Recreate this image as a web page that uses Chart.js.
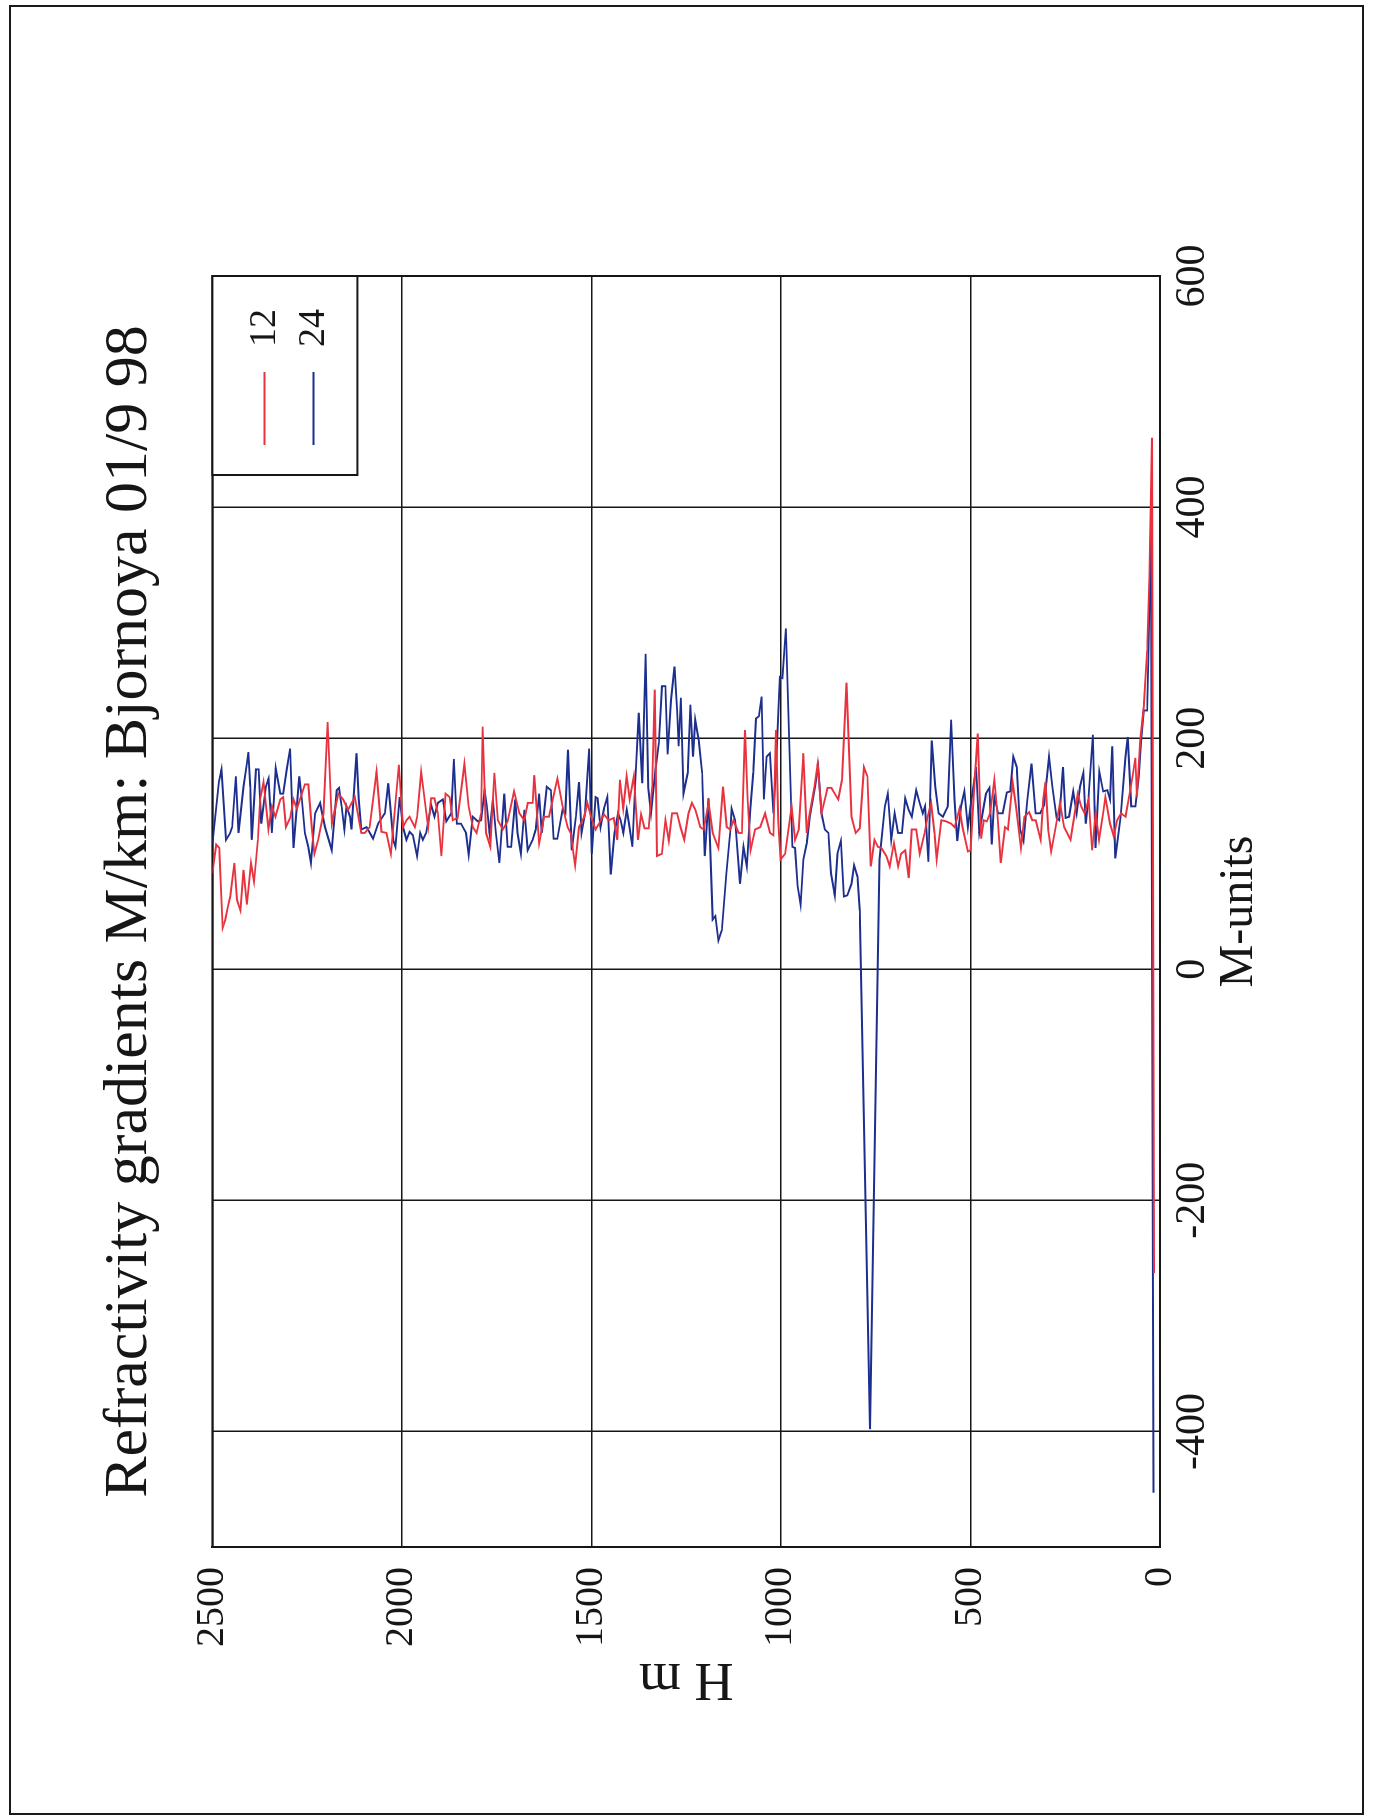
<!DOCTYPE html>
<html>
<head>
<meta charset="utf-8">
<script src="https://cdn.jsdelivr.net/npm/chart.js@4.4.0/dist/chart.umd.min.js"></script>
<style>
  html, body { margin: 0; padding: 0; background: #fff; overflow: hidden; }
  body { width: 1376px; height: 1819px; position: relative; }
  #marco { position: absolute; left: 9px; top: 5px; width: 1351px; height: 1806px; border: 2px solid #1a1a1a; }
  /* la hoja va girada: el grafico se dibuja en horizontal y se rota 90 grados */
  #hoja { position: absolute; left: 0; top: 0; width: 1819px; height: 1376px;
          transform-origin: 0 0; transform: translate(0, 1819px) rotate(-90deg); }
</style>
</head>
<body>
<div id="marco"></div>
<div id="hoja"><canvas id="graficoGradientes"></canvas></div>
<script>
// Sondeo de las 12: altura (m) y gradiente (M/km)
const alturas12 = [
  2500, 2490, 2482, 2473, 2466, 2459, 2453, 2442, 2435, 2426, 2418, 2409, 2398, 2390, 2380, 2374, 2365, 2352, 2343, 2334,
  2321, 2313, 2306, 2295, 2286, 2277, 2256, 2247, 2238, 2231, 2221, 2207, 2196, 2185, 2168, 2155, 2142, 2124, 2107, 2098,
  2085, 2067, 2054, 2041, 2029, 2008,
  1997, 1988, 1980, 1966, 1960, 1949, 1940, 1931, 1923, 1914, 1905, 1896, 1885, 1874, 1866, 1853, 1835, 1824, 1813, 1803,
  1791, 1787, 1778, 1767, 1756, 1747, 1734, 1721, 1704, 1690, 1677, 1668, 1655, 1651, 1638, 1625, 1612, 1590, 1576, 1563,
  1555, 1543, 1533, 1519, 1511, 1498, 1489,
  1480, 1467, 1454, 1441, 1432, 1425, 1416, 1407, 1399, 1388, 1377, 1369, 1360, 1349, 1340, 1333, 1327, 1314, 1305, 1296,
  1287, 1274, 1265, 1255, 1244, 1235, 1226, 1213, 1204, 1191, 1180, 1165, 1153, 1143, 1134, 1125, 1112, 1103, 1095, 1088,
  1080, 1068, 1055, 1042, 1029, 1020, 1013, 1007, 1001, 989,
  972, 963, 953, 941, 932, 924, 912, 903, 893, 884, 877, 867, 858, 849, 839, 827, 820, 814, 803, 792,
  781, 772, 763, 753, 744, 735, 722, 713, 702, 691, 683, 672, 663, 655, 643, 634, 621, 613, 604, 595,
  589, 577, 564, 551, 542, 529, 521, 507, 500, 490, 481, 472,
  465, 457, 448, 437, 429, 420, 409, 401, 389, 380, 367, 358, 345, 337, 328, 315, 308, 302, 295, 287,
  278, 264, 253, 245, 236, 225, 217, 208, 199, 188, 179, 170, 161, 150, 144, 132, 122, 113, 103, 91,
  80, 71, 65, 61, 52, 43, 34, 28, 21, 16
];
const gradientes12 = [
  83, 108, 105, 36, 43, 54, 63, 92, 60, 51, 86, 56, 92, 76, 112, 147, 162, 121, 141, 132,
  147, 149, 123, 131, 147, 139, 160, 160, 123, 100, 112, 135, 214, 126, 152, 147, 138, 149, 118, 118,
  123, 171, 119, 118, 100, 177,
  123, 129, 132, 123, 132, 171, 147, 123, 148, 148, 135, 98, 152, 149, 129, 131, 178, 141, 123, 118,
  135, 210, 118, 106, 170, 129, 121, 128, 154, 135, 129, 144, 144, 168, 109, 132, 132, 165, 141, 123,
  118, 90, 123, 132, 144, 129, 121,
  126, 134, 129, 131, 112, 164, 139, 167, 147, 167, 112, 134, 122, 122, 158, 242, 98, 100, 129, 111,
  135, 135, 123, 112, 135, 144, 138, 123, 121, 144, 118, 105, 158, 123, 121, 129, 118, 118, 207, 147,
  103, 121, 123, 135, 118, 116, 207, 129, 95, 100,
  141, 112, 121, 187, 118, 135, 158, 178, 135, 147, 157, 157, 152, 147, 164, 248, 184, 132, 118, 122,
  175, 167, 89, 112, 106, 105, 98, 89, 109, 89, 100, 103, 79, 121, 121, 100, 118, 132, 144, 118,
  95, 129, 128, 126, 123, 139, 123, 102, 103, 158, 204, 113,
  129, 128, 135, 164, 135, 92, 123, 121, 162, 141, 105, 132, 136, 129, 129, 112, 147, 162, 121, 102,
  118, 144, 123, 118, 112, 135, 152, 141, 135, 147, 103, 135, 112, 135, 149, 126, 115, 129, 135, 132,
  152, 170, 183, 149, 198, 227, 276, 340, 460, -263
];

// Sondeo de las 24
const alturas24 = [
  2500, 2483, 2476, 2464, 2453, 2448, 2438, 2431, 2418, 2409, 2405, 2400, 2396, 2385, 2378, 2371, 2359, 2352, 2343, 2333,
  2321, 2313, 2304, 2295, 2286, 2271, 2264, 2256, 2247, 2240, 2229, 2216, 2203, 2185, 2172, 2166, 2159, 2152, 2146, 2137,
  2133, 2120, 2114, 2107, 2093, 2076, 2063, 2045, 2036, 2023, 2017, 2006,
  1997, 1988, 1980, 1971, 1960, 1952, 1945, 1936, 1923, 1914, 1905, 1892, 1883, 1870, 1863, 1855, 1844, 1831, 1824, 1813,
  1800, 1791, 1782, 1776, 1769, 1760, 1752, 1743, 1730, 1721, 1712, 1701, 1695, 1686, 1677, 1668, 1655, 1647, 1638, 1631,
  1625, 1618, 1607, 1600, 1590, 1576, 1569, 1562, 1552, 1541, 1533, 1526, 1517, 1506, 1499, 1489,
  1484, 1476, 1467, 1458, 1449, 1439, 1430, 1423, 1416, 1407, 1401, 1392, 1384, 1375, 1366, 1357, 1350, 1343, 1331, 1322,
  1314, 1305, 1299, 1290, 1281, 1274, 1270, 1264, 1257, 1246, 1239, 1232, 1226, 1217, 1208, 1201, 1191, 1180, 1173, 1165,
  1156, 1144, 1134, 1130, 1121, 1108, 1099, 1090, 1081, 1073, 1066, 1058, 1051, 1045, 1038, 1029, 1020, 1013, 1003, 996,
  987, 970,
  963, 956, 948, 941, 932, 924, 910, 902, 893, 884, 875, 868, 858, 851, 842, 834, 825, 814, 807, 798,
  792, 765, 740, 726, 718, 709, 700, 691, 681, 672, 663, 655, 643, 634, 626, 620, 611, 602, 593, 584,
  573, 560, 551, 542, 535, 525, 516, 507, 500, 485, 477,
  465, 459, 450, 444, 437, 427, 415, 404, 395, 387, 378, 369, 360, 350, 339, 328, 316, 306, 293, 284,
  273, 266, 256, 249, 240, 229, 220, 211, 202, 196, 189, 177, 170, 160, 150, 139, 132, 126, 118, 104,
  91, 85, 76, 65, 56, 50, 43, 34, 30, 24, 17
];
const gradientes24 = [
  108, 162, 173, 112, 118, 123, 167, 118, 158, 178, 188, 158, 112, 173, 173, 126, 158, 165, 118, 174,
  152, 152, 173, 191, 105, 167, 147, 118, 106, 92, 135, 144, 123, 103, 155, 157, 141, 121, 141, 132,
  121, 187, 147, 121, 123, 113, 126, 135, 161, 112, 106, 149,
  123, 112, 119, 116, 98, 118, 112, 118, 142, 132, 144, 147, 128, 135, 182, 126, 126, 118, 99, 132,
  128, 129, 155, 141, 118, 147, 118, 92, 152, 106, 106, 147, 118, 100, 138, 103, 112, 121, 152, 118,
  135, 158, 155, 113, 113, 138, 135, 190, 103, 132, 162, 118, 135, 191, 100, 149,
  148, 123, 139, 149, 82, 118, 135, 129, 118, 138, 126, 106, 164, 222, 161, 273, 157, 135, 173, 196,
  245, 245, 186, 233, 262, 224, 193, 235, 152, 170, 229, 184, 216, 198, 170, 98, 148, 43, 46, 25,
  34, 83, 118, 139, 129, 74, 106, 89, 138, 170, 217, 219, 236, 147, 184, 187, 135, 175, 253, 252,
  295, 106,
  105, 72, 56, 95, 109, 132, 158, 175, 135, 121, 118, 83, 64, 100, 111, 63, 64, 74, 90, 80,
  51, -398, 95, 141, 152, 112, 135, 118, 118, 148, 138, 132, 155, 144, 135, 141, 93, 198, 158, 135,
  132, 141, 216, 147, 111, 141, 154, 123, 141, 175, 118,
  141, 152, 157, 108, 149, 135, 135, 153, 154, 184, 175, 121, 111, 147, 178, 135, 135, 142, 184, 158,
  131, 129, 175, 131, 132, 154, 135, 158, 170, 126, 147, 203, 105, 171, 154, 155, 147, 193, 96, 132,
  184, 201, 141, 141, 167, 197, 224, 224, 279, 384, -453
];

// Marcas del eje de M-unidades
const ticksM = [-400, -200, 0, 200, 400, 600];

const fuente = "'Liberation Serif', 'Times New Roman', serif";
const tinta = "#161616";

const puntos = (alturas, valores) => alturas.map((h, i) => ({ x: valores[i], y: h }));

// Recuadro del area de trazado
const recuadro = {
  id: "recuadro",
  beforeDatasetsDraw(chart) {
    const { ctx, chartArea } = chart;
    ctx.save();
    ctx.strokeStyle = tinta;
    ctx.lineWidth = 2;
    ctx.strokeRect(chartArea.left, chartArea.top, chartArea.width, chartArea.height);
    ctx.restore();
  },
};

// Leyenda en caja, arriba a la derecha
const leyendaCaja = {
  id: "leyendaCaja",
  afterDraw(chart) {
    const { ctx, chartArea } = chart;
    const ancho = 199, alto = 145;
    const x0 = chartArea.right - ancho, y0 = chartArea.top;
    ctx.save();
    ctx.fillStyle = "#fff";
    ctx.fillRect(x0, y0, ancho, alto);
    ctx.strokeStyle = tinta;
    ctx.lineWidth = 2;
    ctx.strokeRect(x0, y0, ancho, alto);
    chart.data.datasets.forEach((ds, i) => {
      const y = y0 + 52 + i * 49;
      ctx.strokeStyle = ds.borderColor;
      ctx.lineWidth = 2;
      ctx.beginPath();
      ctx.moveTo(x0 + 30, y);
      ctx.lineTo(x0 + 103, y);
      ctx.stroke();
      ctx.fillStyle = tinta;
      ctx.font = "38px " + fuente;
      ctx.textBaseline = "middle";
      ctx.fillText(ds.label, x0 + 128, y + 1);
    });
    ctx.restore();
  },
};

const ctx = document.getElementById("graficoGradientes").getContext("2d");
const grafico = new Chart(ctx, {
  type: "scatter",
  data: {
    datasets: [
      {
        label: "12",
        data: puntos(alturas12, gradientes12),
        showLine: true,
        borderColor: "#e8333f",
        borderWidth: 1.9,
        pointRadius: 0,
        tension: 0,
      },
      {
        label: "24",
        data: puntos(alturas24, gradientes24),
        showLine: true,
        borderColor: "#1c2e8e",
        borderWidth: 1.9,
        pointRadius: 0,
        tension: 0,
      },
    ],
  },
  options: {
    responsive: true,
    maintainAspectRatio: false,
    animation: false,
    layout: { padding: { left: 0, right: 276, top: 0, bottom: 0 } },
    plugins: {
      legend: { display: false },
      tooltip: { enabled: false },
      title: {
        display: true,
        fullSize: false,
        text: "Refractivity gradients M/km: Bjornoya 01/9 98",
        color: tinta,
        font: { family: fuente, size: 62, weight: "normal" },
        padding: { top: 93, bottom: 45 },
      },
    },
    scales: {
      x: {
        type: "linear",
        min: -500,
        max: 600,
        afterBuildTicks: (eje) => {
          eje.ticks = ticksM.map((v) => ({ value: v }));
        },
        afterFit: (eje) => {
          eje.height = 216;
        },
        grid: { color: tinta, lineWidth: 1.5, drawTicks: false },
        border: { display: true, color: tinta, width: 2 },
        ticks: {
          color: tinta,
          font: { family: fuente, size: 42 },
          padding: 8,
          maxRotation: 0,
          callback: (v) => String(v),
        },
        title: {
          display: true,
          text: "M-units",
          color: tinta,
          font: { family: fuente, size: 48 },
          padding: { top: 0, bottom: 108 },
        },
      },
      y: {
        type: "linear",
        min: 0,
        max: 2500,
        afterFit: (eje) => {
          eje.width = 272;
        },
        grid: { color: tinta, lineWidth: 1.5, drawTicks: false },
        border: { display: true, color: tinta, width: 2 },
        ticks: {
          stepSize: 500,
          color: tinta,
          font: { family: fuente, size: 40 },
          padding: 20,
          callback: (v) => String(v),
        },
        title: {
          display: true,
          text: "H m",
          color: tinta,
          font: { family: fuente, size: 54 },
          padding: { top: 108, bottom: 0 },
        },
      },
    },
  },
  plugins: [recuadro, leyendaCaja],
});
</script>
</body>
</html>
